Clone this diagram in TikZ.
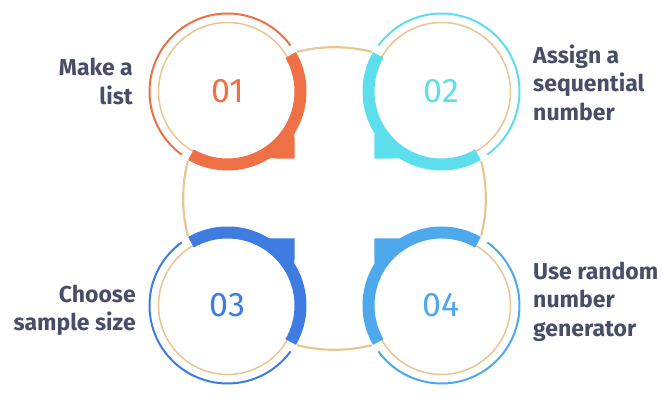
\documentclass[tikz,border=0pt]{standalone}
\usepackage{fontspec}
\setmainfont{Fira Sans}
\usepackage{xcolor}
\usepackage{tikz}
\usetikzlibrary{positioning}
\definecolor{stepone}{RGB}{238,112,68}
\definecolor{steptwo}{RGB}{92,222,236}
\definecolor{stepthree}{RGB}{62,124,226}
\definecolor{stepfour}{RGB}{77,168,236}
\definecolor{ringtan}{RGB}{232,198,146}
\definecolor{labelgray}{RGB}{72,78,104}
\tikzset{
  hubline/.style={draw=ringtan, line width=2.2pt},
  stepdisc/.style={circle, fill=white, minimum size=160pt, inner sep=0pt, font=\fontsize{34}{36}\selectfont},
  innerring/.style={draw=ringtan, line width=1.5pt},
  band/.style={line width=12pt},
  rim/.style={line width=2pt},
  labeltext/.style={text=labelgray, font=\fontsize{23}{28.5}\selectfont\bfseries},
}
\begin{document}
\begin{tikzpicture}[x=1pt, y=1pt]
  \useasboundingbox (-334.5,-199.5) rectangle (327.5,198.5);

  % Hub circle through the four steps
  \coordinate (hub) at (0,0);
  \draw[hubline] (hub) circle (151.3);

  % Step discs
  \node[stepdisc, text=stepone] (s1) at (-107,107) {01};
  \node[stepdisc, text=steptwo] (s2) at (107,107) {02};
  \node[stepdisc, text=stepthree] (s3) at (-107,-107) {03};
  \node[stepdisc, text=stepfour] (s4) at (107,-107) {04};

  % Inner rings
  \draw[innerring] (s1) circle (69);
  \draw[innerring] (s2) circle (69);
  \draw[innerring] (s3) circle (69);
  \draw[innerring] (s4) circle (69);

  % Step 01
  \draw[band, draw=stepone] (s1) ++(30:73) arc[start angle=30, end angle=-120, radius=73];
  \fill[stepone] ([shift={(-32:79)}]s1.center) -- ([shift={(-45:94.8)}]s1.center) -- ([shift={(-58:79)}]s1.center) -- cycle;
  \draw[rim, draw=stepone] (s1) ++(36:78) arc[start angle=36, end angle=234, radius=78];

  % Step 02
  \draw[band, draw=steptwo] (s2) ++(300:73) arc[start angle=300, end angle=150, radius=73];
  \fill[steptwo] ([shift={(238:79)}]s2.center) -- ([shift={(225:94.8)}]s2.center) -- ([shift={(212:79)}]s2.center) -- cycle;
  \draw[rim, draw=steptwo] (s2) ++(306:78) arc[start angle=306, end angle=504, radius=78];

  % Step 03
  \draw[band, draw=stepthree] (s3) ++(120:73) arc[start angle=120, end angle=-30, radius=73];
  \fill[stepthree] ([shift={(58:79)}]s3.center) -- ([shift={(45:94.8)}]s3.center) -- ([shift={(32:79)}]s3.center) -- cycle;
  \draw[rim, draw=stepthree] (s3) ++(126:78) arc[start angle=126, end angle=324, radius=78];

  % Step 04
  \draw[band, draw=stepfour] (s4) ++(210:73) arc[start angle=210, end angle=60, radius=73];
  \fill[stepfour] ([shift={(148:79)}]s4.center) -- ([shift={(135:94.8)}]s4.center) -- ([shift={(122:79)}]s4.center) -- cycle;
  \draw[rim, draw=stepfour] (s4) ++(216:78) arc[start angle=216, end angle=414, radius=78];

  % Labels
  \node[labeltext, align=right, left=11pt of s1, yshift=10pt] (l1) {Make a\\list};
  \node[labeltext, align=left, right=8pt of s2, yshift=9pt] (l2) {Assign a\\sequential\\number};
  \node[labeltext, align=right, left=8pt of s3, yshift=-5pt] (l3) {Choose\\sample size};
  \node[labeltext, align=left, right=8pt of s4, yshift=4pt] (l4) {Use random\\number\\generator};
\end{tikzpicture}
\end{document}
